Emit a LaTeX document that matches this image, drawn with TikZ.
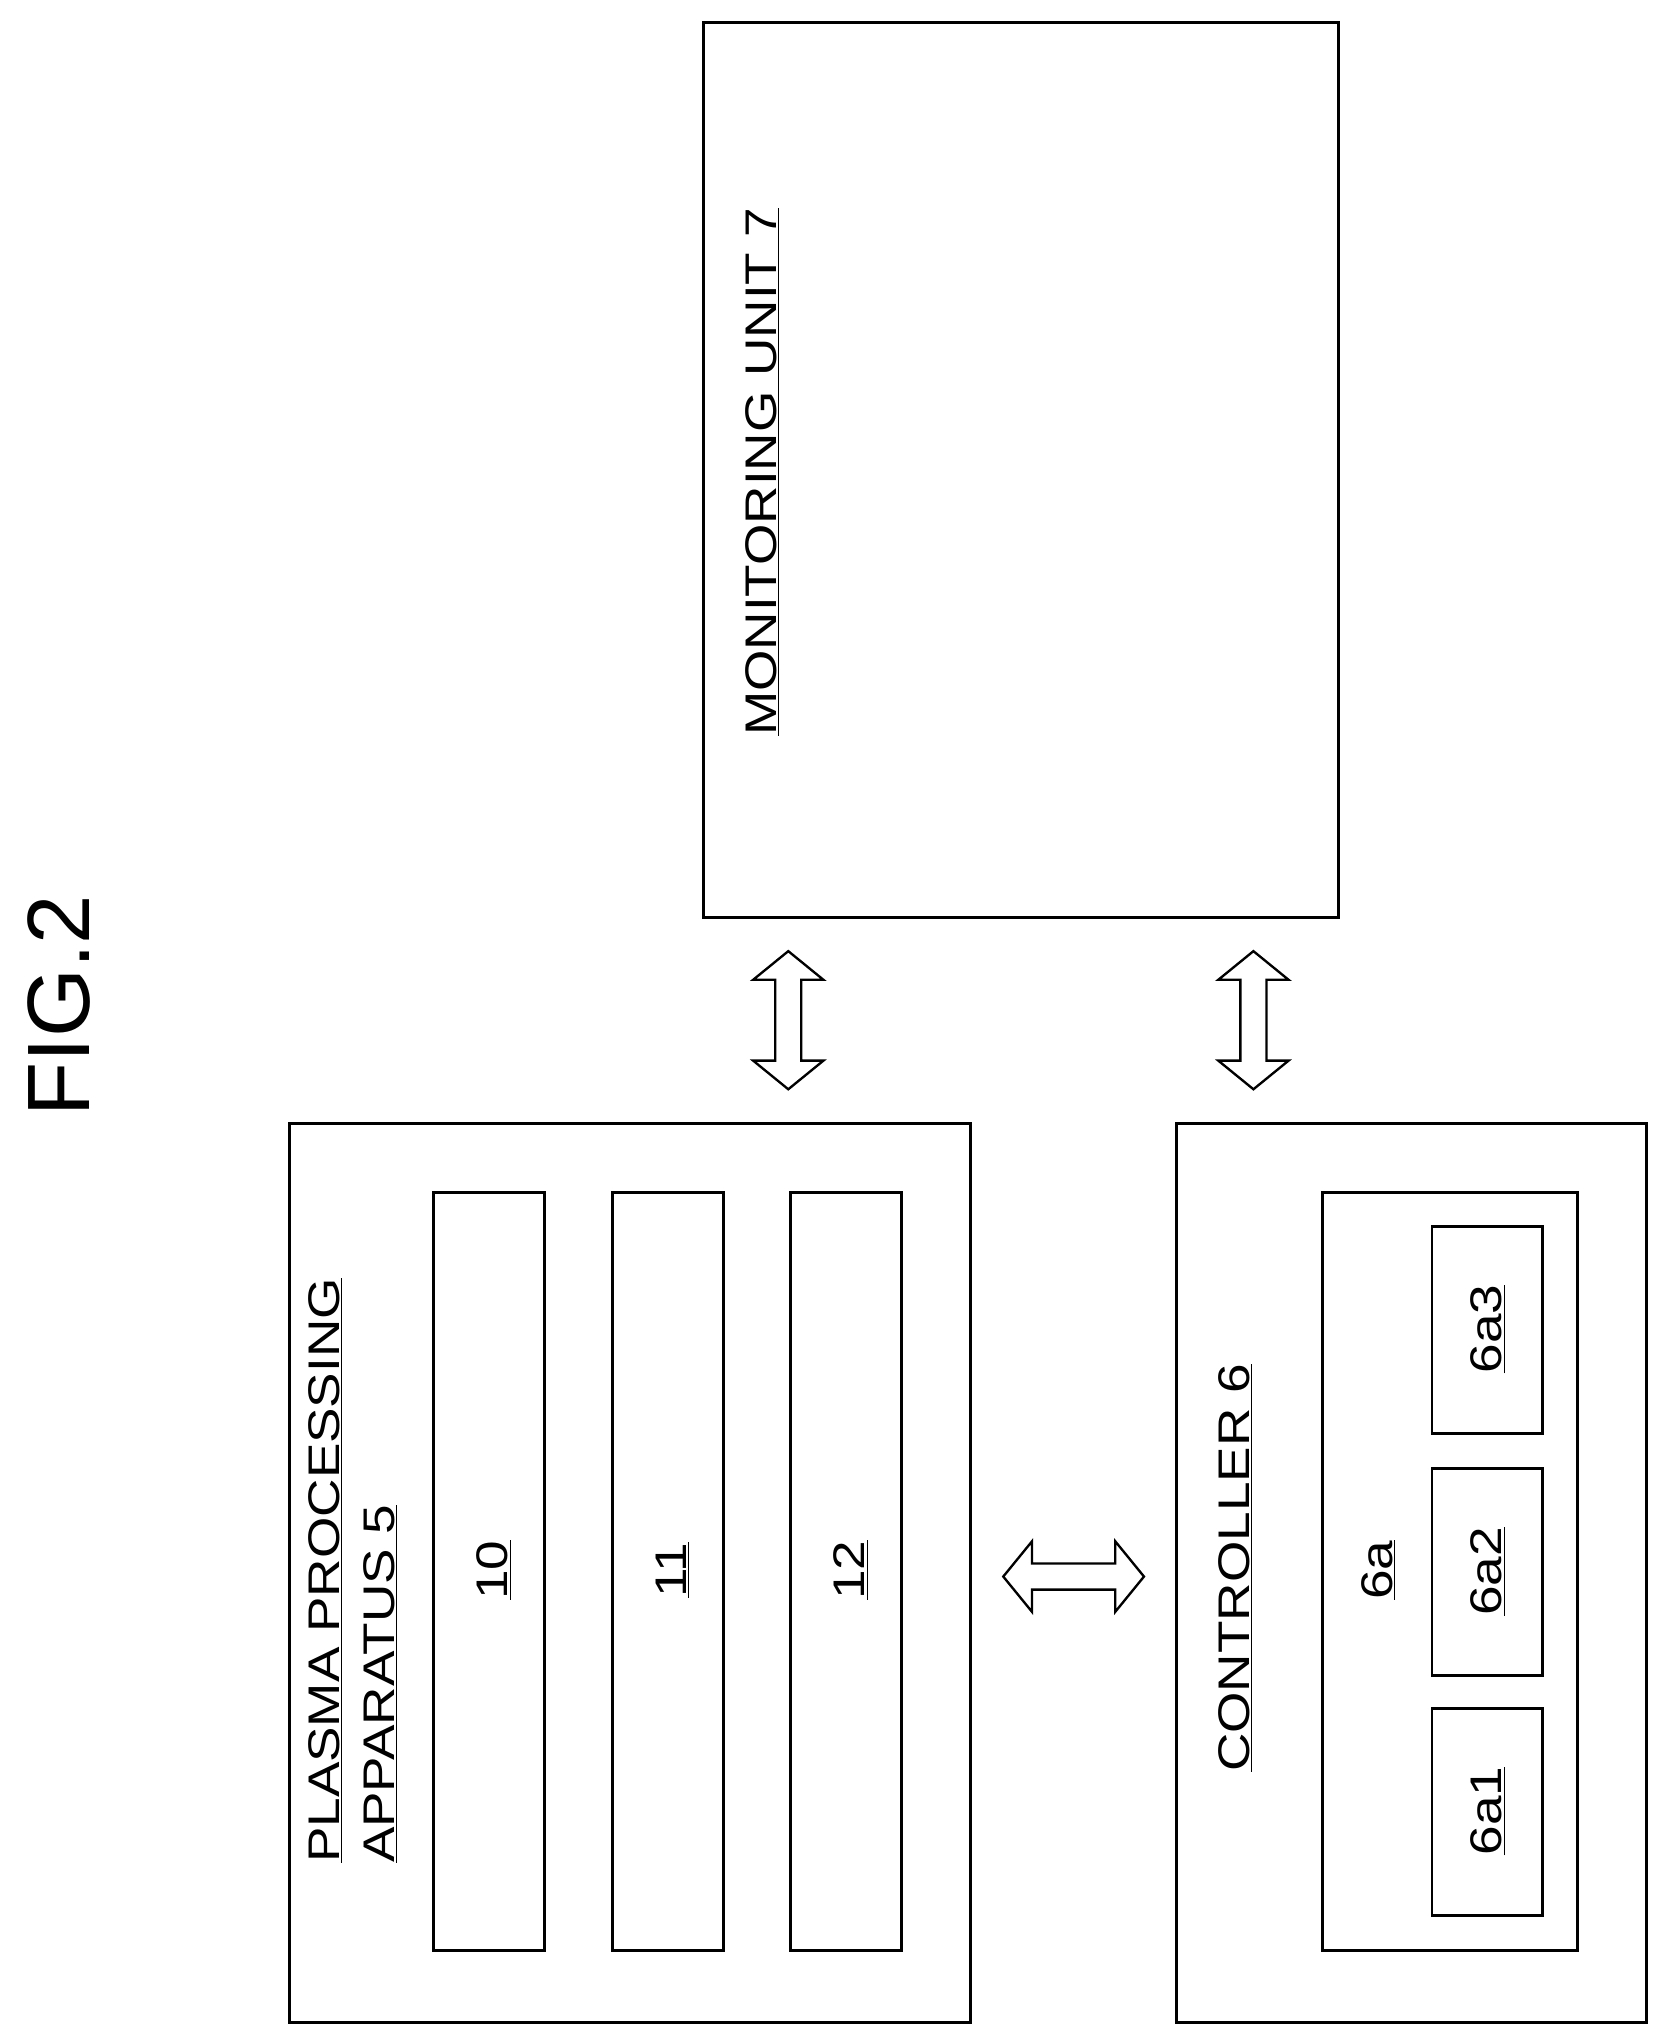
\documentclass[tikz,border=0pt]{standalone}
\usepackage{fontspec}
\setmainfont{Liberation Sans}
\newcommand\wtxt[1]{\scalebox{1.2}[1]{\underline{#1}}}
\begin{document}
\begin{tikzpicture}[x=1pt,y=-1pt,
  box/.style={draw,line width=2.2pt},
  lbl/.style={rotate=90,font=\fontsize{34}{40}\selectfont,inner sep=0pt},
  dbl/.style={draw,line width=1.8pt,fill=white}]
\useasboundingbox (0,0) rectangle (1280,1568);
\node[lbl,font=\fontsize{68}{80}\selectfont] (fig) at (45,772) {FIG.2};
% monitoring
\draw[box] (540,17) rectangle (1027,704);
\node[lbl,anchor=west] (mon) at (585,565) {\wtxt{MONITORING UNIT 7}};
% plasma
\draw[box] (222,862) rectangle (745,1552);
\node[lbl,anchor=south west] (pl1) at (263,1430) {\wtxt{PLASMA PROCESSING}};
\node[lbl,anchor=south west] (pl2) at (305,1430) {\wtxt{APPARATUS 5}};
\foreach \x/\t in {333/10,470/11,607/12}{
  \draw[box] (\x,915) rectangle (\x+85,1497);
  \node[lbl] at (\x+46,1205) {\wtxt{\t}};
}
% controller
\draw[box] (903,862) rectangle (1264,1552);
\node[lbl,anchor=west] (ctl) at (948,1360) {\wtxt{CONTROLLER 6}};
\draw[box] (1015,915) rectangle (1211,1497);
\node[lbl] (sixa) at (1058,1205) {\wtxt{6a}};
\foreach \y/\t in {1311/6a1,1127/6a2,941/6a3}{
  \draw[box] (1099,\y) rectangle (1184,\y+159);
  \node[lbl] at (1142,\y+79) {\wtxt{\t}};
}
% vertical double arrows
\foreach \cx in {605,962}{
  \draw[dbl] (\cx,730) -- (\cx+27,752) -- (\cx+10,752) -- (\cx+10,814) -- (\cx+27,814)
    -- (\cx,836) -- (\cx-27,814) -- (\cx-10,814) -- (\cx-10,752) -- (\cx-27,752) -- cycle;
}
% horizontal double arrow
\draw[dbl] (770,1210) -- (792,1183) -- (792,1200) -- (856,1200) -- (856,1183)
  -- (878,1210) -- (856,1237) -- (856,1220) -- (792,1220) -- (792,1237) -- cycle;
\end{tikzpicture}
\end{document}
